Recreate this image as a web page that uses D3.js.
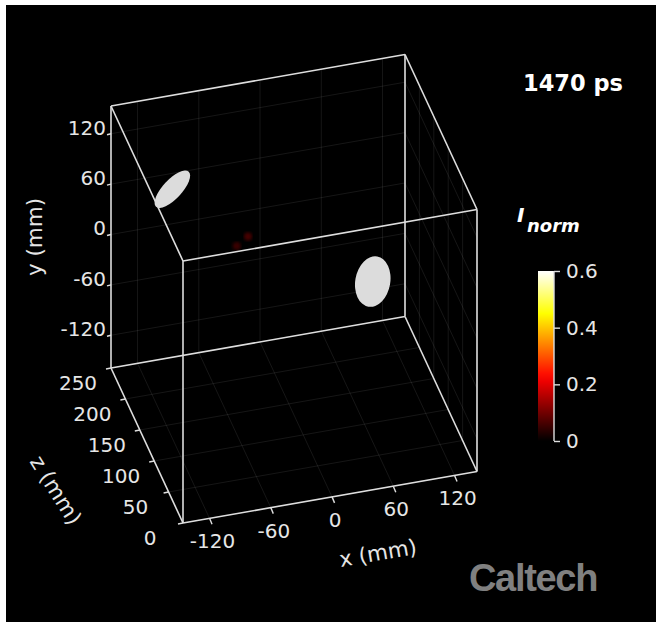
<!DOCTYPE html>
<html><head><meta charset="utf-8">
<script src="https://cdn.jsdelivr.net/npm/d3@7"></script>
<style>
html,body{margin:0;padding:0;background:#fff;}
svg{display:block;font-family:"DejaVu Sans",sans-serif;}
</style></head>
<body>
<svg id="chart" width="657" height="622"></svg>
<script>
// ---------- data ----------
const xDomain = [-146, 142];
const yDomain = [-159, 153];
const zDomain = [0, 250];
const xTicks = [-120, -60, 0, 60, 120];
const yTicks = [-120, -60, 0, 60, 120];
const zTicks = [0, 50, 100, 150, 200, 250];
const cbDomain = [0, 0.6];
const cbTicks = [0, 0.2, 0.4, 0.6];
const timeLabel = "1470 ps";
// bright objects (centres, mm) and intensity
const objX = [-100, 54];
const objY = [81, 49];
const objZ = [200, 50];
const objI = [0.6, 0.6];
// faint scattered signal
const glowX = [-51, -40];
const glowY = [40, 49];
const glowZ = [150, 150];
const glowI = [0.05, 0.06];

// ---------- layout / style ----------
const W = 657, H = 622;
const O = [183, 523];           // screen position of (xmin, ymin, z=0)
const EX = [294, -51.5];        // full x-extent vector
const EY = [0, -262];           // full y-extent vector
const EZ = [-72, -155];         // full z-extent vector
const objShape = [{rx: 24, ry: 9.5, rot: -47}, {rx: 17.5, ry: 25.5, rot: 10}];
const edgeColor = "#dedede";
const gridColor = "rgba(255,255,255,0.085)";

const svg = d3.select("#chart");
svg.append("rect").attr("x", 6).attr("y", 5).attr("width", W - 7).attr("height", H - 5).attr("fill", "#000");

const sx = d3.scaleLinear().domain(xDomain).range([0, 1]);
const sy = d3.scaleLinear().domain(yDomain).range([0, 1]);
const sz = d3.scaleLinear().domain(zDomain).range([0, 1]);
function P(x, y, z) {
  const a = sx(x), b = sy(y), c = sz(z);
  return [O[0] + a * EX[0] + b * EY[0] + c * EZ[0], O[1] + a * EX[1] + b * EY[1] + c * EZ[1]];
}
const line = d3.line();
const [x0, x1] = xDomain, [y0, y1] = yDomain, [z0, z1] = zDomain;

// hot colormap
function hot(t) {
  t = Math.max(0, Math.min(1, t));
  const r = Math.min(1, t / 0.375), g = Math.max(0, Math.min(1, (t - 0.375) / 0.375)), b = Math.max(0, Math.min(1, (t - 0.75) / 0.25));
  return d3.rgb(r * 255, g * 255, b * 255).toString();
}
const cScale = d3.scaleLinear().domain(cbDomain).range([0, 1]).clamp(true);

// ---------- grid ----------
const grid = svg.append("g").attr("stroke", gridColor).attr("stroke-width", 1).attr("fill", "none");
// back wall z = zmax
xTicks.forEach(x => grid.append("path").attr("d", line([P(x, y0, z1), P(x, y1, z1)])));
yTicks.forEach(y => grid.append("path").attr("d", line([P(x0, y, z1), P(x1, y, z1)])));
// floor y = ymin
xTicks.forEach(x => grid.append("path").attr("d", line([P(x, y0, z0), P(x, y0, z1)])));
zTicks.forEach(z => grid.append("path").attr("d", line([P(x0, y0, z), P(x1, y0, z)])));
// right wall x = xmax
yTicks.forEach(y => grid.append("path").attr("d", line([P(x1, y, z0), P(x1, y, z1)])));
zTicks.forEach(z => grid.append("path").attr("d", line([P(x1, y0, z), P(x1, y1, z)])));

// ---------- faint signal ----------
const defs = svg.append("defs");
defs.append("filter").attr("id", "blur").append("feGaussianBlur").attr("stdDeviation", 1.6);
svg.append("g").selectAll("circle").data(glowX.map((x, i) => ({p: P(x, glowY[i], glowZ[i]), v: glowI[i]})))
  .join("circle").attr("cx", d => d.p[0]).attr("cy", d => d.p[1]).attr("r", 4)
  .attr("fill", d => hot(cScale(d.v))).attr("filter", "url(#blur)");

// ---------- box edges ----------
const corners = [];
[x0, x1].forEach(x => [y0, y1].forEach(y => [z0, z1].forEach(z => corners.push([x, y, z]))));
const edges = svg.append("g").attr("stroke", edgeColor).attr("stroke-width", 1.6).attr("fill", "none");
for (let i = 0; i < corners.length; i++) for (let j = i + 1; j < corners.length; j++) {
  const a = corners[i], b = corners[j];
  const diff = a.filter((v, k) => v !== b[k]).length;
  if (diff === 1) edges.append("path").attr("d", line([P(...a), P(...b)]));
}

// ---------- bright objects ----------
svg.append("g").selectAll("ellipse").data(objX.map((x, i) => ({p: P(x, objY[i], objZ[i]), v: objI[i], s: objShape[i]})))
  .join("ellipse")
  .attr("transform", d => `translate(${d.p[0]},${d.p[1]}) rotate(${d.s.rot})`)
  .attr("rx", d => d.s.rx).attr("ry", d => d.s.ry)
  .attr("fill", "#dcdcdc");

// ---------- ticks & labels ----------
const tickG = svg.append("g").attr("stroke", edgeColor).attr("stroke-width", 1.4);
const lab = svg.append("g").attr("fill", "#e6e6e6").attr("font-size", 20);
// y axis (x = xmin, z = zmax)
yTicks.forEach(y => {
  const p = P(x0, y, z1);
  tickG.append("line").attr("x1", p[0]).attr("y1", p[1]).attr("x2", p[0] - 4).attr("y2", p[1] + 1);
  lab.append("text").attr("x", p[0] - 5).attr("y", p[1] - 6).attr("dy", "0.35em").attr("text-anchor", "end").text(y);
});
// x axis (y = ymin, z = 0)
xTicks.forEach(x => {
  const p = P(x, y0, z0);
  tickG.append("line").attr("x1", p[0]).attr("y1", p[1]).attr("x2", p[0] + 2.5).attr("y2", p[1] + 6);
  lab.append("text").attr("x", p[0] + 3).attr("y", p[1] + 23).attr("dy", "0.35em").attr("text-anchor", "middle").text(x);
});
// z axis (x = xmin, y = ymin)
zTicks.forEach(z => {
  const p = P(x0, y0, z);
  tickG.append("line").attr("x1", p[0]).attr("y1", p[1]).attr("x2", p[0] - 5).attr("y2", p[1] + 1);
  lab.append("text").attr("x", p[0] - 33).attr("y", p[1] + 15).attr("dy", "0.35em").attr("text-anchor", "middle").text(z);
});
// axis titles
lab.append("text").attr("transform", "translate(34,237) rotate(-90)").attr("dy", "0.35em").attr("text-anchor", "middle").attr("font-size", 21.5).text("y (mm)");
lab.append("text").attr("transform", "translate(378,553) rotate(-9.8)").attr("dy", "0.35em").attr("text-anchor", "middle").attr("font-size", 21.5).text("x (mm)");
lab.append("text").attr("transform", "translate(56,490) rotate(58)").attr("dy", "0.35em").attr("text-anchor", "middle").attr("font-size", 21.5).text("z (mm)");

// ---------- time stamp ----------
svg.append("text").attr("x", 573).attr("y", 83).attr("dy", "0.35em").attr("text-anchor", "middle")
  .attr("font-size", 22.5).attr("font-weight", "bold").attr("fill", "#fff").text(timeLabel);

// ---------- colorbar ----------
const cbX = 538, cbW = 16, cbTop = 271, cbBot = 441;
const cbY = d3.scaleLinear().domain(cbDomain).range([cbBot, cbTop]);
const grad = defs.append("linearGradient").attr("id", "hotgrad").attr("x1", 0).attr("y1", 1).attr("x2", 0).attr("y2", 0);
d3.range(0, 1.0001, 0.05).forEach(t => grad.append("stop").attr("offset", t).attr("stop-color", hot(t)));
svg.append("rect").attr("x", cbX).attr("y", cbTop).attr("width", cbW).attr("height", cbBot - cbTop).attr("fill", "url(#hotgrad)");
const cbAxis = d3.axisRight(cbY).tickValues(cbTicks).tickSize(6).tickPadding(6).tickFormat(d => d === 0 ? "0" : d3.format(".1f")(d));
const cbG = svg.append("g").attr("transform", `translate(${cbX + cbW},0)`).call(cbAxis);
cbG.attr("font-family", null).attr("font-size", null);
cbG.select(".domain").attr("stroke", edgeColor).attr("stroke-width", 1.4).attr("d", `M0,${cbTop}V${cbBot}`);
cbG.selectAll(".tick line").attr("stroke", edgeColor).attr("stroke-width", 1.4);
cbG.selectAll(".tick text").attr("fill", "#e6e6e6").style("font-size", "20px").style("font-family", "DejaVu Sans");
// colorbar title I_norm
const tt = svg.append("text").attr("fill", "#fff").attr("font-weight", "bold").attr("font-style", "italic");
tt.append("tspan").attr("x", 517).attr("y", 222).attr("font-size", 20).text("I");
tt.append("tspan").attr("x", 527).attr("y", 232).attr("font-size", 18).text("norm");

// ---------- logo ----------
svg.append("text").attr("x", 533).attr("y", 591).attr("text-anchor", "middle")
  .style("font-family", "'Liberation Sans', Arial, sans-serif").attr("font-weight", "bold")
  .attr("font-size", 38).attr("letter-spacing", -1.3).attr("fill", "#808080").text("Caltech");
</script>
</body></html>
